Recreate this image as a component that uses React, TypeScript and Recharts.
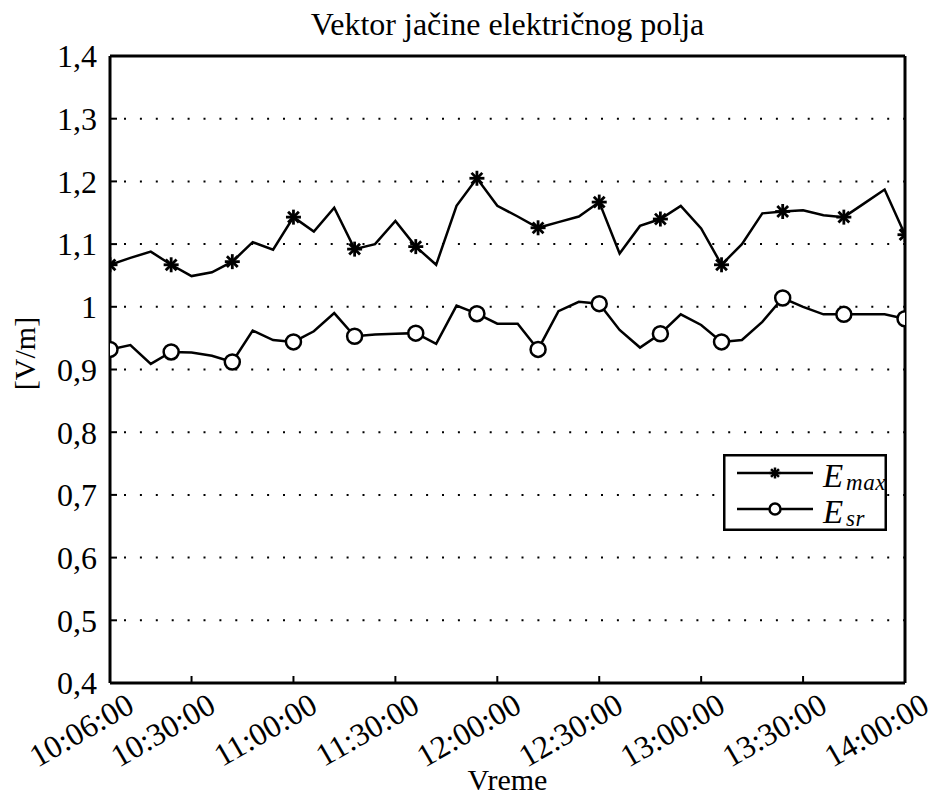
import React from "react";
import { LineChart, Line, XAxis, YAxis, CartesianGrid, Legend, Label } from "recharts";

// sampling times (every 6 min)
const times = [
  "10:06:00", "10:12:00", "10:18:00", "10:24:00", "10:30:00", "10:36:00", "10:42:00", "10:48:00",
  "10:54:00", "11:00:00", "11:06:00", "11:12:00", "11:18:00", "11:24:00", "11:30:00", "11:36:00",
  "11:42:00", "11:48:00", "11:54:00", "12:00:00", "12:06:00", "12:12:00", "12:18:00", "12:24:00",
  "12:30:00", "12:36:00", "12:42:00", "12:48:00", "12:54:00", "13:00:00", "13:06:00", "13:12:00",
  "13:18:00", "13:24:00", "13:30:00", "13:36:00", "13:42:00", "13:48:00", "13:54:00", "14:00:00",
];

const eMax = [
  1.067, 1.078, 1.088, 1.067, 1.049, 1.055, 1.072, 1.103, 1.091, 1.143,
  1.120, 1.158, 1.092, 1.100, 1.137, 1.096, 1.067, 1.161, 1.205, 1.161,
  1.144, 1.126, 1.135, 1.144, 1.167, 1.085, 1.129, 1.140, 1.161, 1.125,
  1.067, 1.100, 1.149, 1.152, 1.154, 1.146, 1.143, 1.165, 1.187, 1.115,
];

const eSr = [
  0.932, 0.939, 0.909, 0.928, 0.927, 0.922, 0.912, 0.962, 0.947, 0.944,
  0.961, 0.990, 0.953, 0.956, 0.957, 0.958, 0.941, 1.002, 0.989, 0.973,
  0.973, 0.932, 0.993, 1.008, 1.005, 0.963, 0.935, 0.957, 0.988, 0.971,
  0.944, 0.947, 0.976, 1.014, 1.000, 0.988, 0.988, 0.988, 0.988, 0.981,
];

const xTickLabels = [
  "10:06:00", "10:30:00", "11:00:00", "11:30:00", "12:00:00",
  "12:30:00", "13:00:00", "13:30:00", "14:00:00",
];
const yTicks = [0.4, 0.5, 0.6, 0.7, 0.8, 0.9, 1.0, 1.1, 1.2, 1.3, 1.4];

const title = "Vektor jačine električnog polja";
const xLabel = "Vreme";
const yLabel = "[V/m]";

const FONT = "'Liberation Serif', 'Times New Roman', serif";

function toMinutes(s: string): number {
  const [h, m] = s.split(":").map(Number);
  return h * 60 + m;
}

const data = times.map((t, i) => ({ t: toMinutes(t), eMax: eMax[i], eSr: eSr[i] }));
const xTicks = xTickLabels.map(toMinutes);

function formatTime(m: number): string {
  const h = Math.floor(m / 60);
  const mm = String(m % 60).padStart(2, "0");
  return `${h}:${mm}:00`;
}

function formatY(v: number): string {
  return String(Math.round(v * 10) / 10).replace(".", ",");
}

function Star({ cx, cy, r, w = 2.5 }: { cx: number; cy: number; r: number; w?: number }) {
  const d = r * 0.72;
  return (
    <g stroke="#000" strokeWidth={w}>
      <line x1={cx - r} y1={cy} x2={cx + r} y2={cy} />
      <line x1={cx} y1={cy - r} x2={cx} y2={cy + r} />
      <line x1={cx - d} y1={cy - d} x2={cx + d} y2={cy + d} />
      <line x1={cx - d} y1={cy + d} x2={cx + d} y2={cy - d} />
    </g>
  );
}

// markers only on every third sample
const starDot = (p: any) =>
  p.index % 3 === 0 ? (
    <Star key={`s${p.index}`} cx={p.cx} cy={p.cy} r={7.5} w={2.8} />
  ) : (
    <g key={`s${p.index}`} />
  );

const circleDot = (p: any) =>
  p.index % 3 === 0 ? (
    <circle key={`c${p.index}`} cx={p.cx} cy={p.cy} r={7.5} fill="#fff" stroke="#000" strokeWidth={2.5} />
  ) : (
    <g key={`c${p.index}`} />
  );

function XTick({ x, y, payload }: any) {
  const ax = x + 26;
  const ay = y + 28;
  return (
    <text
      x={ax}
      y={ay}
      textAnchor="end"
      fontFamily={FONT}
      fontSize={32}
      fill="#000"
      transform={`rotate(-30 ${ax} ${ay})`}
    >
      {formatTime(payload.value)}
    </text>
  );
}

function renderLegend() {
  const rows = [
    { y: 19, sub: "max", marker: <Star cx={52} cy={19} r={5.5} /> },
    { y: 55, sub: "sr", marker: <circle cx={52} cy={55} r={5.5} fill="#fff" stroke="#000" strokeWidth={2.5} /> },
  ];
  return (
    <svg width={164} height={77} style={{ display: "block", overflow: "visible" }}>
      <rect x={1.25} y={1.25} width={161.5} height={74.5} fill="#fff" stroke="#000" strokeWidth={2.5} />
      {rows.map((r) => (
        <g key={r.sub}>
          <line x1={14} y1={r.y} x2={90} y2={r.y} stroke="#000" strokeWidth={2.5} />
          {r.marker}
          <text x={100} y={r.y + 14} fontFamily={FONT} fontStyle="italic" fontSize={33} fill="#000">
            E
          </text>
          <text x={123} y={r.y + 17} fontFamily={FONT} fontStyle="italic" fontSize={23} letterSpacing={0.6} fill="#000">
            {r.sub}
          </text>
        </g>
      ))}
    </svg>
  );
}

const axisLine = { stroke: "#000", strokeWidth: 3 };
const tickLine = { stroke: "#000", strokeWidth: 2 };

export default function App() {
  return (
    <div style={{ position: "absolute", left: 0, top: 0, width: 934, height: 796, background: "#fff" }}>
      <LineChart width={934} height={796} data={data} margin={{ top: 55, right: 28, bottom: 0, left: 0 }}>
        <CartesianGrid
          horizontal
          vertical={false}
          stroke="#000"
          strokeWidth={2}
          strokeDasharray="2 13.9"
          strokeDashoffset={-14}
        />
        <XAxis
          dataKey="t"
          type="number"
          domain={[xTicks[0], xTicks[xTicks.length - 1]]}
          allowDataOverflow
          ticks={xTicks}
          height={113}
          axisLine={axisLine}
          tickLine={tickLine}
          tickSize={-7}
          tickMargin={7}
          tick={<XTick />}
          interval={0}
        >
          <Label value={xLabel} position="insideBottom" offset={6} fontFamily={FONT} fontSize={30} fill="#000" />
        </XAxis>
        <XAxis
          xAxisId="top"
          orientation="top"
          type="number"
          domain={[xTicks[0], xTicks[xTicks.length - 1]]}
          allowDataOverflow
          ticks={xTicks}
          height={1}
          axisLine={axisLine}
          tickLine={tickLine}
          tickSize={-7}
          tick={false}
          interval={0}
        >
          <Label value={title} position="top" offset={20} fontFamily={FONT} fontSize={32} fill="#000" />
        </XAxis>
        <YAxis
          domain={[0.4, 1.4]}
          ticks={yTicks}
          allowDataOverflow
          width={110}
          axisLine={axisLine}
          tickLine={tickLine}
          tickSize={-7}
          tickMargin={20}
          tickFormatter={formatY}
          tick={{ fontFamily: FONT, fontSize: 32, fill: "#000" }}
          interval={0}
        >
          <Label
            content={({ viewBox }: any) => {
              const x = viewBox.x + 35;
              const y = viewBox.y + viewBox.height / 2 - 16;
              return (
                <text
                  x={x}
                  y={y}
                  textAnchor="middle"
                  fontFamily={FONT}
                  fontSize={30}
                  fill="#000"
                  transform={`rotate(-90 ${x} ${y})`}
                >
                  {yLabel}
                </text>
              );
            }}
          />
        </YAxis>
        <YAxis
          yAxisId="right"
          orientation="right"
          domain={[0.4, 1.4]}
          ticks={yTicks}
          allowDataOverflow
          width={1}
          axisLine={axisLine}
          tickLine={tickLine}
          tickSize={-7}
          tick={false}
          interval={0}
        />
        <Legend
          layout="vertical"
          align="center"
          verticalAlign="middle"
          wrapperStyle={{ top: 454, left: 723, width: 164, height: 77 }}
          content={renderLegend}
        />
        <Line
          type="linear"
          dataKey="eMax"
          stroke="#000"
          strokeWidth={2.5}
          dot={starDot}
          activeDot={false}
          isAnimationActive={false}
        />
        <Line
          type="linear"
          dataKey="eSr"
          stroke="#000"
          strokeWidth={2.5}
          dot={circleDot}
          activeDot={false}
          isAnimationActive={false}
        />
      </LineChart>
    </div>
  );
}
